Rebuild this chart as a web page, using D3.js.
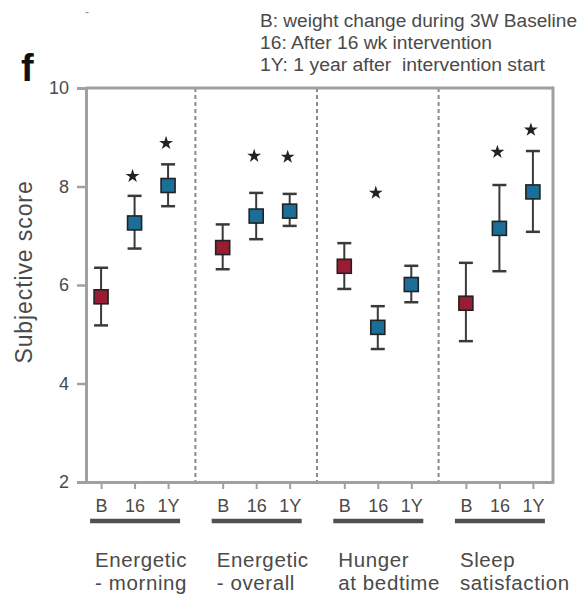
<!DOCTYPE html>
<html><head><meta charset="utf-8">
<script src="https://cdn.jsdelivr.net/npm/d3@7/dist/d3.min.js"></script>
<style>
html,body{margin:0;padding:0;background:#fff;}
text{font-family:"Liberation Sans",Arial,sans-serif;}
</style></head>
<body><svg id="c" width="584" height="595"></svg>
<script>
const groupLine1 = ["Energetic", "Energetic", "Hunger", "Sleep"];
const groupLine2 = ["- morning", "- overall", "at bedtime", "satisfaction"];
const timepoints = ["B", "16", "1Y"];
const means = [[5.76, 7.26, 8.02], [6.76, 7.40, 7.50], [6.38, 5.14, 6.01], [5.63, 7.15, 7.89]];
const upper = [[6.35, 7.81, 8.45], [7.23, 7.87, 7.85], [6.85, 5.57, 6.39], [6.45, 8.03, 8.72]];
const lower = [[5.18, 6.74, 7.60], [6.32, 6.93, 7.20], [5.92, 4.70, 5.65], [4.86, 6.28, 7.08]];
const stars = [[null, 8.21, 8.88], [null, 8.62, 8.60], [null, 7.87, null], [null, 8.70, 9.15]];
const yTicks = [2, 4, 6, 8, 10];
const legendLines = ["B: weight change during 3W Baseline", "16: After 16 wk intervention", "1Y: 1 year after  intervention start"];

const svg = d3.select("#c");
const groupStep = 3.63;
const slot = (g, i) => g * groupStep + i;
const x = d3.scaleLinear().domain([-0.45, 13.49]).range([86, 553]);
const y = d3.scaleLinear().domain([2, 10]).range([482, 88]);
const axisCol = "#a0a0a0";
const textCol = "#4a4a4a";

// legend text
legendLines.forEach((t, k) => {
  svg.append("text").attr("x", 260).attr("y", 27 + k * 22)
    .attr("font-size", 18).attr("fill", textCol)
    .attr("textLength", [317, 232, 285][k]).attr("lengthAdjust", "spacingAndGlyphs")
    .style("white-space", "pre").text(t);
});
svg.append("text").attr("x", 85).attr("y", 16).attr("font-size", 12).attr("fill", "#888").text("-");
// panel letter
svg.append("text").attr("x", 21).attr("y", 81).attr("font-size", 38).attr("font-weight", "bold").attr("fill", "#111").text("f");

// dashed dividers
for (let g = 0; g < 3; g++) {
  const xd = x(slot(g, 2) + (groupStep - 2) / 2);
  svg.append("line").attr("x1", xd).attr("x2", xd).attr("y1", y(10)).attr("y2", y(2))
    .attr("stroke", "#8a8a8a").attr("stroke-width", 2).attr("stroke-dasharray", "4,3");
}
// frame top and right
svg.append("line").attr("x1", x.range()[0]).attr("x2", x.range()[1]).attr("y1", y(10)).attr("y2", y(10))
  .attr("stroke", axisCol).attr("stroke-width", 3);
svg.append("line").attr("x1", x.range()[1]).attr("x2", x.range()[1]).attr("y1", y(10) - 1.5).attr("y2", y(2) + 1.5)
  .attr("stroke", axisCol).attr("stroke-width", 3);

// y axis
const ya = svg.append("g").attr("transform", `translate(${x.range()[0]},0)`)
  .call(d3.axisLeft(y).tickValues(yTicks).tickSize(9).tickPadding(8));
ya.select(".domain").attr("stroke", axisCol).attr("stroke-width", 3);
ya.selectAll(".tick line").attr("stroke", axisCol).attr("stroke-width", 2.5);
ya.selectAll(".tick text").attr("font-size", 18).attr("fill", textCol).attr("font-family", "Liberation Sans, Arial, sans-serif");

// x axis
const xVals = [], xLab = [];
for (let g = 0; g < 4; g++) for (let i = 0; i < 3; i++) { xVals.push(slot(g, i)); xLab.push(timepoints[i]); }
const xa = svg.append("g").attr("transform", `translate(0,${y(2)})`)
  .call(d3.axisBottom(x).tickValues(xVals).tickFormat((d, k) => xLab[k]).tickSize(7).tickPadding(10).tickSizeOuter(0));
xa.select(".domain").attr("stroke", axisCol).attr("stroke-width", 3);
xa.selectAll(".tick line").attr("stroke", axisCol).attr("stroke-width", 2);
xa.selectAll(".tick text").attr("font-size", 18).attr("fill", textCol).attr("font-family", "Liberation Sans, Arial, sans-serif");

// y label
svg.append("text").attr("transform", `translate(32,272) rotate(-90)`).attr("text-anchor", "middle")
  .attr("font-size", 23).attr("letter-spacing", 0.9).attr("fill", textCol).text("Subjective score");

// group bars and labels
for (let g = 0; g < 4; g++) {
  const x0 = x(slot(g, 0)) - 11, x1 = x(slot(g, 2)) + 12;
  svg.append("line").attr("x1", x0).attr("x2", x1).attr("y1", 521).attr("y2", 521)
    .attr("stroke", "#505050").attr("stroke-width", 4.5);
  svg.append("text").attr("x", x0 + 5).attr("y", 567).attr("font-size", 20.5).attr("letter-spacing", 0.6).attr("fill", textCol).text(groupLine1[g]);
  svg.append("text").attr("x", x0 + 5).attr("y", 590).attr("font-size", 20.5).attr("letter-spacing", 0.6).attr("fill", textCol).text(groupLine2[g]);
}

// data
const pts = [];
for (let g = 0; g < 4; g++) for (let i = 0; i < 3; i++)
  pts.push({ g, i, m: means[g][i], hi: upper[g][i], lo: lower[g][i], s: stars[g][i] });

const eb = svg.append("g");
pts.forEach(p => {
  const cx = x(slot(p.g, p.i));
  eb.append("line").attr("x1", cx).attr("x2", cx).attr("y1", y(p.hi)).attr("y2", y(p.lo))
    .attr("stroke", "#3a3a3a").attr("stroke-width", 2);
  [p.hi, p.lo].forEach(v => eb.append("line").attr("x1", cx - 7).attr("x2", cx + 7).attr("y1", y(v)).attr("y2", y(v))
    .attr("stroke", "#3a3a3a").attr("stroke-width", 2.5));
});
svg.append("g").selectAll("rect").data(pts).join("rect")
  .attr("x", d => x(slot(d.g, d.i)) - 7).attr("y", d => y(d.m) - 7)
  .attr("width", 14).attr("height", 14)
  .attr("fill", d => d.i === 0 ? "#9a1c34" : "#1b6e98")
  .attr("stroke", "#222").attr("stroke-width", 1.6);

const star = d3.symbol().type(d3.symbolStar).size(60);
svg.append("g").selectAll("path").data(pts.filter(d => d.s != null)).join("path")
  .attr("d", star)
  .attr("transform", d => `translate(${x(slot(d.g, d.i)) - 2},${y(d.s)})`)
  .attr("fill", "#222");
</script></body></html>
